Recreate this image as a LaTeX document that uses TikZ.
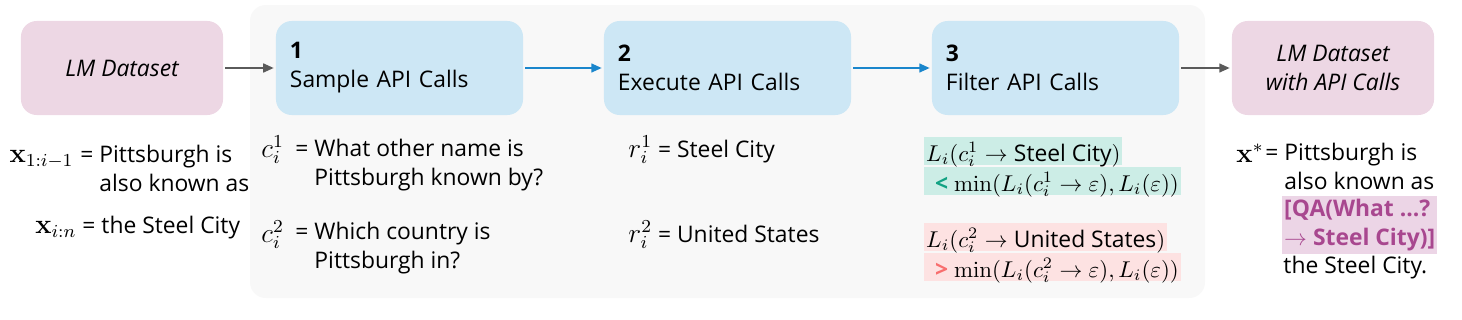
\documentclass[tikz,border=0pt]{standalone}
\usepackage[no-math]{fontspec}
\setmainfont{Open Sans}
\usetikzlibrary{positioning,arrows.meta}
\definecolor{panel}{HTML}{F8F8F8}
\definecolor{dset}{HTML}{EDD7E4}
\definecolor{stepc}{HTML}{CDE7F5}
\definecolor{arrblue}{HTML}{1A86CC}
\definecolor{arrgray}{HTML}{5A5A5A}
\definecolor{keep}{HTML}{CCEDE6}
\definecolor{keepmark}{HTML}{12A283}
\definecolor{drop}{HTML}{FDE2E2}
\definecolor{dropmark}{HTML}{F86E6E}
\definecolor{apic}{HTML}{A8478F}
\definecolor{apibg}{HTML}{ECD5E6}
\newcommand{\symb}[1]{{\fontsize{12}{14}\selectfont$#1$}}

\begin{document}
\begin{tikzpicture}[x=0.015385cm,y=-0.015385cm,font=\fontsize{10}{12.4}\selectfont,
  ds/.style={fill=dset,rounded corners=6.9pt,minimum width=3.108cm,minimum height=1.446cm,
    align=center,font=\fontsize{10}{12.7}\selectfont\itshape},
  stepbox/.style={fill=stepc,rounded corners=6.9pt,minimum width=3.8cm,minimum height=1.446cm,
    inner xsep=0.2154cm,text width=3.369cm,align=left,font=\fontsize{10}{12.7}\selectfont},
  flow/.style={line width=0.92pt,-{Triangle[length=4.6pt,width=3.85pt]},shorten <=0.77pt,shorten >=0.77pt},
  txt/.style={anchor=base west,inner sep=0pt,align=left},
  hl/.style={anchor=base west,inner xsep=0.77pt,inner ysep=0pt,text height=0.369cm,text depth=0.0615cm}]
  \useasboundingbox (0,0) rectangle (1462,319);
  % panel behind the three steps
  \fill[panel,rounded corners=6.9pt] (250,5) rectangle (1205,298);

  \node[ds] (lm) at (122,68) {LM Dataset};
  \node[stepbox] (s1) at (399.5,68) {\textbf{1}\\Sample API Calls};
  \node[stepbox] (s2) at (727.5,68) {\textbf{2}\\Execute API Calls};
  \node[stepbox] (s3) at (1055.5,68) {\textbf{3}\\Filter API Calls};
  \node[ds] (lmapi) at (1333,68) {LM Dataset\\with API Calls};

  \draw[flow,arrgray] (lm) -- (s1);
  \draw[flow,arrblue] (s1) -- (s2);
  \draw[flow,arrblue] (s2) -- (s3);
  \draw[flow,arrgray] (s3) -- (lmapi);

  % input text (base = last line)
  \node[txt,anchor=base east] (x1) at (74,162) {\symb{\mathbf{x}_{1:i-1}}};
  \node[txt] (x1eq) at (80,191) {= Pittsburgh is\\\phantom{= }also known as};
  \node[txt,anchor=base east] (x2) at (77,233) {\symb{\mathbf{x}_{i:n}}};
  \node[txt] (x2eq) at (82,233) {= the Steel City};

  % sampled calls
  \node[txt] (c1) at (261,157) {\symb{c_i^1}};
  \node[txt] (c1eq) at (295,185) {= What other name is\\\phantom{= }Pittsburgh known by?};
  \node[txt] (c2) at (261,242) {\symb{c_i^2}};
  \node[txt] (c2eq) at (295,268) {= Which country is\\\phantom{= }Pittsburgh in?};

  % responses
  \node[txt] (r1) at (628,157) {\symb{r_i^1} = Steel City};
  \node[txt] (r2) at (628,242) {\symb{r_i^2} = United States};

  % filtering
  \node[hl,fill=keep] (f1a) at (924,161) {$L_i(c_i^1\to{}$Steel City$)$};
  \node[hl,fill=keep] (f1b) at (924,191) {\hspace{3.85pt}{\color{keepmark}\textbf{<}}
    $\min(L_i(c_i^1\to\varepsilon), L_i(\varepsilon))$};
  \node[hl,fill=drop] (f2a) at (924,247) {$L_i(c_i^2\to{}$United States$)$};
  \node[hl,fill=drop] (f2b) at (924,277) {\hspace{3.85pt}{\color{dropmark}\textbf{>}}
    $\min(L_i(c_i^2\to\varepsilon), L_i(\varepsilon))$};

  % output text
  \node[txt] (xs) at (1236,162) {\symb{\mathbf{x}^*}};
  \node[txt] (xseq) at (1265,189) {= Pittsburgh is\\\phantom{= }also known as};
  \node[txt,fill=apibg,text=apic,inner xsep=0.77pt,inner ysep=1.5pt] (qa) at (1282,245)
    {\textbf{[QA(What …?}\\$\rightarrow$ \textbf{Steel City)]}};
  \node[txt] (tail) at (1283,273) {the Steel City.};
\end{tikzpicture}
\end{document}
